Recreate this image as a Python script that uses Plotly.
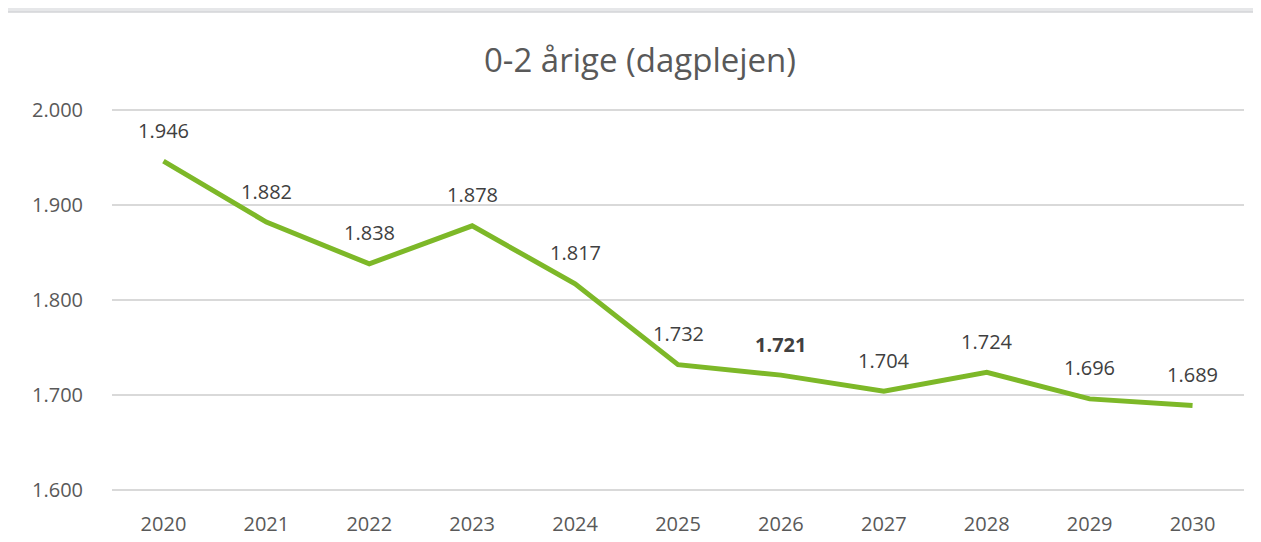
import plotly.graph_objects as go

# data
years = ["2020", "2021", "2022", "2023", "2024", "2025", "2026", "2027", "2028", "2029", "2030"]
children = [1946, 1882, 1838, 1878, 1817, 1732, 1721, 1704, 1724, 1696, 1689]
bold_year = "2026"

# page body has an 8px margin, so the figure is laid out 8px smaller
W, H = 1253, 534
L, R, T, B = 104, 17, 99, 49
pw, ph = W - L - R, H - T - B

fig = go.Figure()
fig.add_trace(go.Scatter(
    x=years, y=children, mode="lines",
    line=dict(color="#7DB828", width=5),
    hoverinfo="skip", showlegend=False,
))

# data labels above the points (x as category index)
for i, (yr, v) in enumerate(zip(years, children)):
    txt = f"{v/1000:.3f}"
    if yr == bold_year:
        txt = f"<b>{txt}</b>"
    fig.add_annotation(x=i, y=v, text=txt, showarrow=False, yshift=31,
                       font=dict(size=20, color="#404040", family="Open Sans"))

# white chart area on grey background
fig.add_shape(type="rect", xref="paper", yref="paper", layer="below",
              x0=(-2 - L) / pw, x1=(W + 20 - L) / pw,
              y0=(H - B - (H + 30)) / ph, y1=(H - B - 4) / ph,
              fillcolor="white", line=dict(color="#D4D5D7", width=1.5))

fig.update_layout(
    width=W, height=H,
    margin=dict(l=L, r=R, t=T, b=B),
    paper_bgcolor="#E6E7E9", plot_bgcolor="white",
    separators=",.",
    font=dict(family="Open Sans", size=20, color="#595959"),
    title=dict(text="0-2 årige (dagplejen)", x=632 / W, xanchor="center",
               y=1 - 52 / H, yanchor="middle",
               font=dict(size=33, color="#595959")),
    xaxis=dict(type="category", range=[-0.5, 10.5], showgrid=False, zeroline=False,
               showline=False, ticks="", ticklabelstandoff=17, automargin=False,
               fixedrange=True),
    yaxis=dict(range=[1597, 2003], tickvals=[1600, 1700, 1800, 1900, 2000], tickformat=",d",
               gridcolor="#D9D9D9", gridwidth=1.5, zeroline=False, showline=False,
               ticks="", ticklabelstandoff=28, automargin=False, fixedrange=True),
)

fig.write_html("out.html")
